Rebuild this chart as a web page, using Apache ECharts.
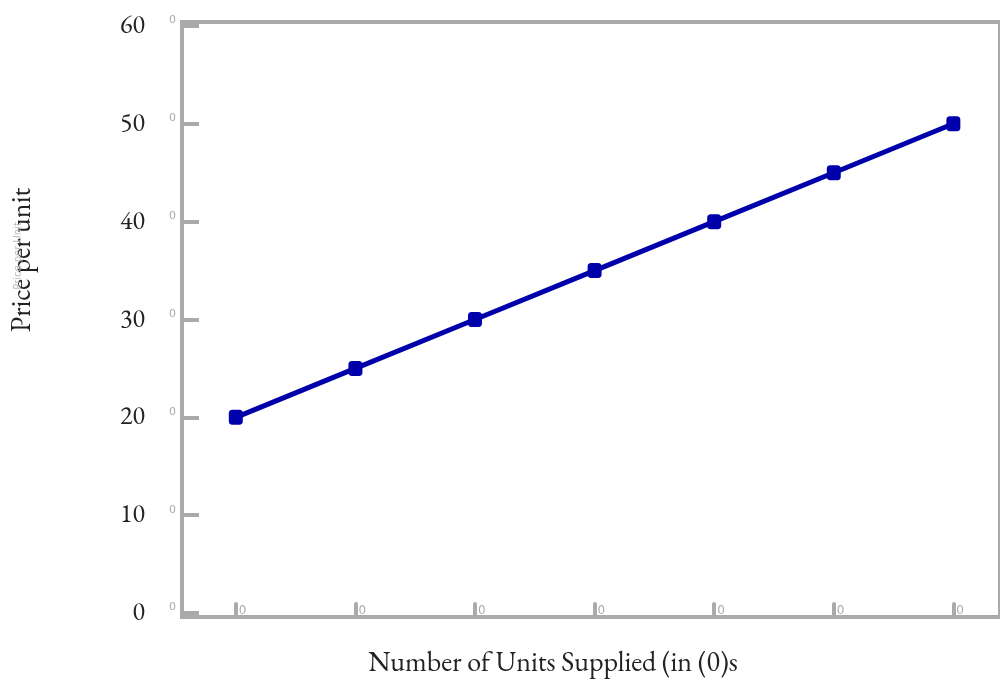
<!DOCTYPE html>
<html>
<head>
<meta charset="utf-8">
<script src="https://cdn.jsdelivr.net/npm/echarts@6/dist/echarts.min.js"></script>
<style>
  html, body { margin: 0; padding: 0; background: #fff; }
  #chart { width: 1000px; height: 680px; }
</style>
</head>
<body>
<div id="chart"></div>
<script>
// data
var xValues = [1, 2, 3, 4, 5, 6, 7];
var xLabels = ['0', '0', '0', '0', '0', '0', '0'];
var priceValues = [20, 25, 30, 35, 40, 45, 50];
var yTicks = [0, 10, 20, 30, 40, 50, 60];
var yLabels = ['0', '10', '20', '30', '40', '50', '60'];
var yMinorLabels = ['0', '0', '0', '0', '0', '0', '0'];

var serif = "'EB Garamond', Garamond, 'Liberation Serif', 'DejaVu Serif', serif";
var axisGrey = '#aaaaaa';
var lineBlue = '#0000aa';

var chart = echarts.init(document.getElementById('chart'));

var option = {
    backgroundColor: '#fff',
    animation: false,
    grid: {
        left: 182,
        right: -4,
        top: 22,
        bottom: 63,
        show: true,
        borderColor: axisGrey,
        borderWidth: 4
    },
    xAxis: {
        type: 'value',
        min: 0.55,
        max: 7.39,
        axisLine: { show: true, onZero: false, lineStyle: { color: axisGrey, width: 4 } },
        splitLine: { show: false },
        axisTick: {
            show: true,
            inside: true,
            length: 13,
            customValues: xValues,
            lineStyle: { color: axisGrey, width: 4, cap: 'round' }
        },
        axisLabel: {
            show: true,
            inside: true,
            margin: 0,
            customValues: xValues,
            align: 'left',
            padding: [0, 0, 0, 3],
            color: '#aaaaaa',
            fontSize: 12,
            fontFamily: 'DejaVu Sans',
            formatter: function (v) { return xLabels[xValues.indexOf(v)]; }
        }
    },
    yAxis: [
        {
            type: 'value',
            position: 'left',
            min: -0.4,
            max: 60.4,
            axisLine: { show: true, onZero: false, lineStyle: { color: axisGrey, width: 4 } },
            splitLine: { show: false },
            axisTick: {
                show: true,
                inside: true,
                length: 17,
                customValues: yTicks,
                lineStyle: { color: axisGrey, width: 4 }
            },
            axisLabel: {
                margin: 37,
                color: '#222',
                fontSize: 26,
                fontFamily: serif,
                customValues: yTicks,
                formatter: function (v) { return yLabels[yTicks.indexOf(v)]; }
            }
        },
        {
            type: 'value',
            position: 'left',
            min: -0.4,
            max: 60.4,
            axisLine: { show: false },
            axisTick: { show: false },
            splitLine: { show: false },
            axisLabel: {
                margin: 6,
                color: '#aaaaaa',
                fontSize: 11,
                fontFamily: 'DejaVu Sans',
                verticalAlign: 'bottom',
                customValues: yTicks,
                formatter: function (v) { return yMinorLabels[yTicks.indexOf(v)]; }
            }
        }
    ],
    graphic: [
        {
            type: 'text',
            x: 553,
            y: 663,
            style: {
                text: 'Number of Units Supplied (in (0)s',
                font: '28px ' + serif,
                fill: '#222',
                align: 'center',
                verticalAlign: 'middle'
            }
        },
        {
            type: 'text',
            x: 22,
            y: 260,
            rotation: Math.PI / 2,
            style: {
                text: 'Price per unit',
                font: '28px ' + serif,
                fill: '#222',
                align: 'center',
                verticalAlign: 'middle'
            }
        },
        {
            type: 'text',
            x: 18,
            y: 256,
            rotation: Math.PI / 2,
            style: {
                text: 'Price per Unit',
                font: '10px DejaVu Sans',
                fill: '#bbbbbb',
                align: 'center',
                verticalAlign: 'middle'
            }
        }
    ],
    series: [
        {
            type: 'line',
            data: xValues.map(function (x, i) { return [x, priceValues[i]]; }),
            lineStyle: { color: lineBlue, width: 5 },
            itemStyle: { color: lineBlue },
            symbol: 'roundRect',
            symbolSize: [14, 15],
            showSymbol: true
        }
    ]
};

chart.setOption(option);
window.addEventListener('resize', function () {
    chart.resize();
});
</script>
</body>
</html>
